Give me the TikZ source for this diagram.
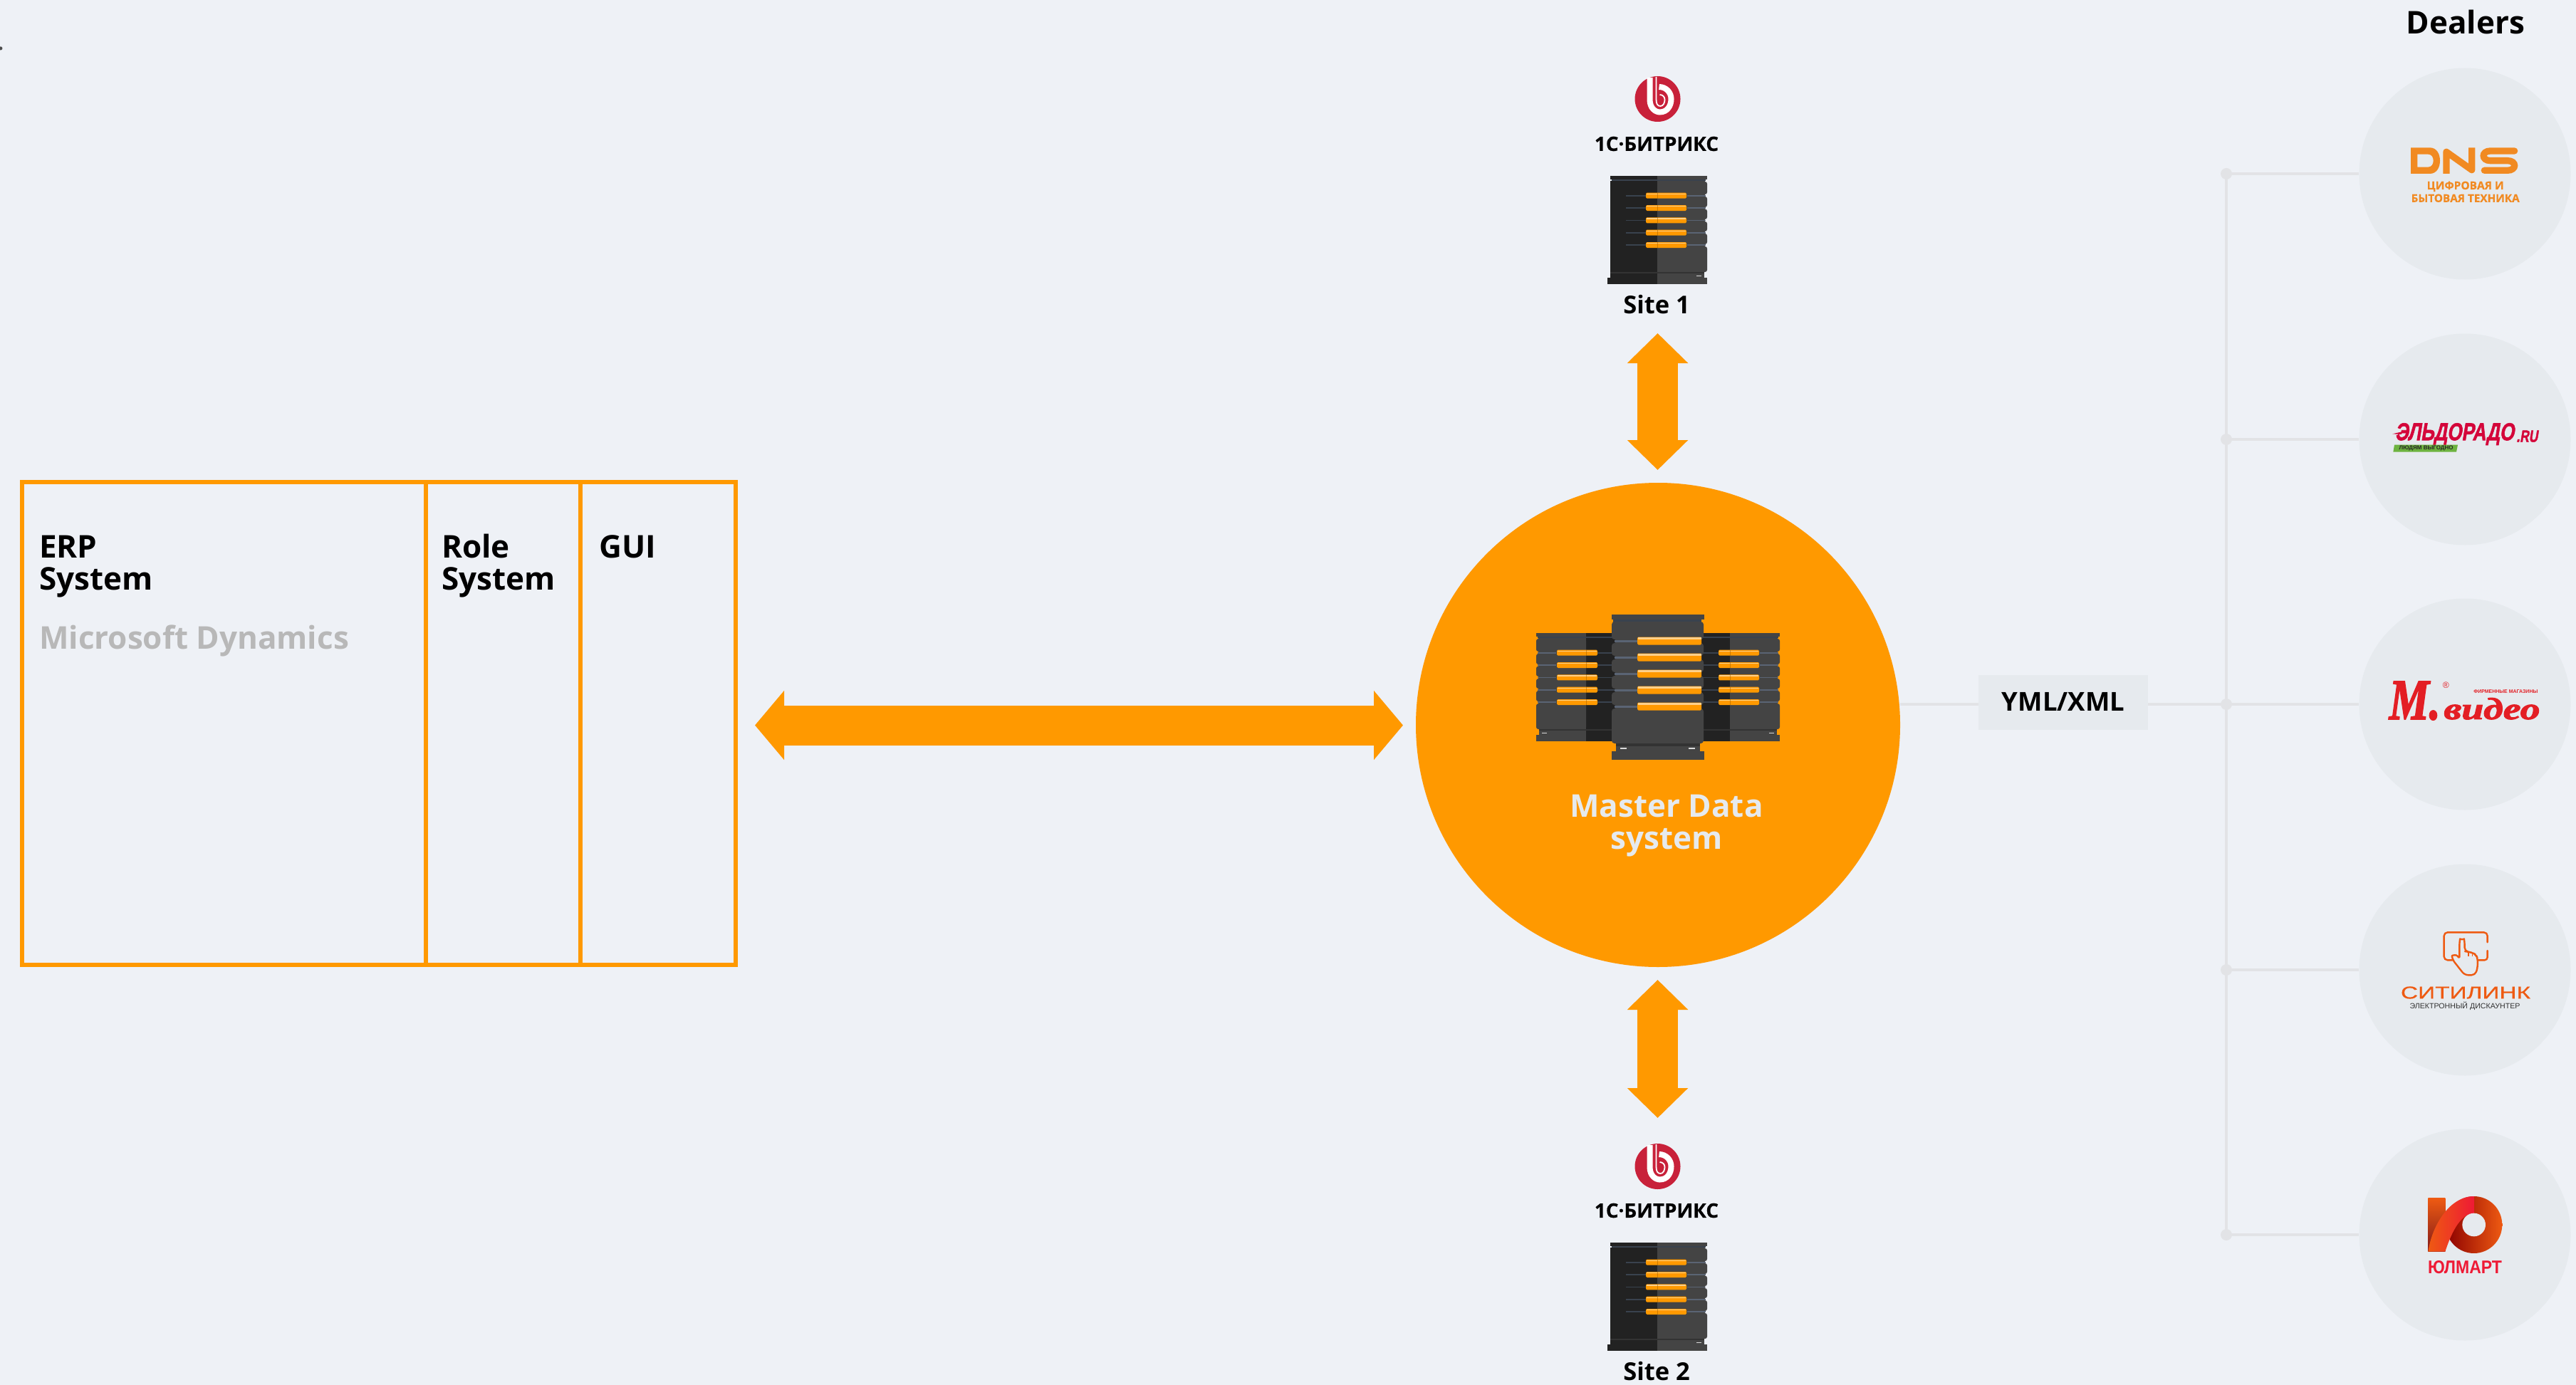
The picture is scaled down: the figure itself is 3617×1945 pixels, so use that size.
\documentclass[tikz,border=0pt]{standalone}
\usepackage{graphicx}
\usepackage{fontspec}
\setmainfont{Open Sans}
\newfontfamily\lsans{Liberation Sans}
\newfontfamily\lserif{Liberation Serif}
\newfontfamily\heavy[BoldFeatures={FakeBold=0.6}]{Open Sans}
\newfontfamily\eldfont[BoldFeatures={FakeBold=2,FakeSlant=0.22}]{Liberation Sans}
\newfontfamily\mvfont[BoldItalicFeatures={FakeBold=2.2}]{Liberation Serif}
\newfontfamily\citfont[UprightFeatures={FakeBold=0.5}]{Liberation Sans}
\usetikzlibrary{arrows.meta}
\definecolor{bg}{HTML}{EEF1F6}
\definecolor{disc}{HTML}{E6EAEE}
\definecolor{wire}{HTML}{E2E3E6}
\definecolor{org}{HTML}{FF9900}
\definecolor{rdark}{HTML}{222222}
\definecolor{rlight}{HTML}{444444}
\definecolor{rbase}{HTML}{333333}
\definecolor{wirel}{HTML}{5A6474}
\definecolor{wired}{HTML}{39424E}
\definecolor{hil}{HTML}{FFD08A}
\definecolor{bxred}{HTML}{C8213A}
\definecolor{dnsc}{HTML}{F18A22}
\definecolor{eldc}{HTML}{D4063A}
\definecolor{mvc}{HTML}{E31E24}
\definecolor{citc}{HTML}{EE5A12}
\definecolor{yuc}{HTML}{EE1A35}
\definecolor{eldg}{HTML}{6DB33F}
\tikzset{
  lbl/.style={inner sep=0pt,anchor=base west,font=\fontsize{44}{46}\selectfont\bfseries},
  ctr/.style={inner sep=0pt,anchor=base,font=\fontsize{34.5}{40}\selectfont\bfseries},
  hubtext/.style={inner sep=0pt,anchor=base,text=disc,font=\fontsize{44}{46}\selectfont\bfseries},
  dealer/.style={circle,fill=disc,minimum size=297pt,inner sep=0pt},
  wireline/.style={wire,line width=4.7pt},
  jdot/.style={circle,fill=wire,minimum size=16pt,inner sep=0pt},
  frameline/.style={org,line width=6pt},
  bigarrow/.style={org,line width=56pt,{Triangle[length=41pt,width=95pt]}-{Triangle[length=41pt,width=95pt]}},
  vertarrow/.style={org,line width=57pt,{Triangle[length=42pt,width=83pt]}-{Triangle[length=42pt,width=83pt]}},
  logotext/.style={inner sep=0pt},
  bar/.style={fill=org,rounded corners=1.5pt},
}
\newcommand\rackrows[1]{\foreach \r in {27.7,45,62.3,79.7,97}{#1}}
\tikzset{rack/.pic={
  \fill[rdark] (-66,7) rectangle (0,135);
  \fill[rlight] (0,7) rectangle (67,135);
  \foreach \a/\b in {8/26,29/44,46.5/61,64/78,81/96,99/135}{
    \fill[rlight,rounded corners=3pt] (0,\a) rectangle (70,\b);}
  \fill[rdark] (-66,0) rectangle (0,5.3);
  \fill[rlight] (0,0) rectangle (70,5.3);
  \fill[wired] (-64,5.3) rectangle (68,7.3);
  \rackrows{
    \fill[wired] (-44,\r-0.8) rectangle (-16,\r+0.8);
    \fill[wirel] (42,\r-0.8) rectangle (68,\r+0.8);
    \fill[bar] (-16,\r-4) rectangle (41,\r+4);
    \fill[hil] (-15,\r-3.2) rectangle (40,\r-1.6);
    \fill[black!40!org,opacity=.5] (-0.3,\r-4) rectangle (0.3,\r+4);
  }
  \fill[rdark] (-66,135) rectangle (0,143);
  \fill[rlight] (0,135) rectangle (66,143);
  \fill[rbase] (-66,135) rectangle (66,137);
  \fill[rdark] (-70,143) rectangle (0,152);
  \fill[rlight] (0,143) rectangle (70,152);
  \fill[white!85!black] (55,140) rectangle (62,141);
}}
\tikzset{bitrix/.pic={
  \fill[bxred] (0,0) circle (32);
  \draw[white,line width=8pt,line cap=butt]
    (-11,-30) -- (-11,1) .. controls (-11,13) and (-3,18.5) .. (3,18.5)
    .. controls (14,18.5) and (19,9) .. (19,0) .. controls (19,-9) and (12,-17) .. (2,-17);
  \draw[bxred,line width=1.6pt]
    (-5,-31) -- (-5,1) .. controls (-5,9) and (-2,13) .. (3,13)
    .. controls (9,13) and (13,7) .. (13,0) .. controls (13,-6) and (8,-10) .. (2,-10);
  \draw[white,line width=1.8pt] (-2,-31) -- (-2,1) .. controls (-2,7) and (0,10) .. (4,10)
    .. controls (8,10) and (10,5) .. (10,1) .. controls (10,-3) and (7,-6) .. (3,-6);
}}
\begin{document}
\begin{tikzpicture}[x=1pt,y=-1pt]
\useasboundingbox (0,0) rectangle (3617,1945);
\fill[bg] (0,0) rectangle (3617,1945);
\node[inner sep=0pt,anchor=base,font=\fontsize{30}{30}\selectfont\bfseries,text=black!70] (stray) at (1,71) {.};

% left block
\draw[frameline] (31,676.5) rectangle (1033,1355);
\draw[frameline] (597.5,676.5) -- (597.5,1355);
\draw[frameline] (815,676.5) -- (815,1355);
\node[lbl] (erp) at (55,783) {ERP};
\node[lbl] (erps) at (55,828) {System};
\node[lbl,text=black!28] (ms) at (55,911) {Microsoft Dynamics};
\node[lbl] (role) at (620,783) {Role};
\node[lbl] (roles) at (620,828) {System};
\node[lbl] (gui) at (841,783) {GUI};

% hub
\node[circle,fill=org,minimum size=680pt,inner sep=0pt] (hub) at (2328,1018) {};
\pic at (2227,889) [xscale=-1] {rack};
\pic at (2429,889) {rack};
% centre rack
\fill[rlight] (2263,863) rectangle (2393,870);
\fill[wired] (2265,870) rectangle (2389,873.5);
\fill[rlight] (2268,873) rectangle (2389,1044);
\foreach \a/\b in {873/898,903/921,926/944,949/967,972/990,995/1044}{
  \fill[rlight,rounded corners=4pt] (2263,\a) rectangle (2392,\b);}
\foreach \r in {900,923,946,969,992}{
  \fill[wirel] (2267,\r-1.5) rectangle (2299,\r+1.5);
  \fill[bar] (2299,\r-5.5) rectangle (2389,\r+5.5);
  \fill[hil] (2300,\r-5) rectangle (2389,\r-2.5);
}
\fill[rbase] (2269,1044) rectangle (2387,1048);
\fill[rlight] (2269,1048) rectangle (2387,1055);
\fill[rlight] (2263,1055) rectangle (2393,1067);
\fill[white!85!black] (2275,1050) rectangle (2284,1052);
\fill[white!85!black] (2371,1050) rectangle (2380,1052);
\node[hubtext] (md1) at (2340,1147) {Master Data};
\node[hubtext] (md2) at (2340,1192) {system};

% horizontal arrow
\coordinate (erpend) at (1060,1018.5);
\coordinate (hubend) at (1970,1018.5);
\draw[bigarrow] (erpend) -- (hubend);
% vertical arrows
\coordinate (a1) at (2327.5,468);
\coordinate (a2) at (2327.5,660);
\coordinate (b1) at (2327.5,1376);
\coordinate (b2) at (2327.5,1570);
\draw[vertarrow] (a1) -- (a2);
\draw[vertarrow] (b1) -- (b2);

% sites
\pic at (2327.5,139) {bitrix};
\node[logotext] (bx1) at (2326,202) {\resizebox{174pt}{!}{\heavy\bfseries 1С·БИТРИКС}};
\pic at (2327,247) {rack};
\node[ctr] (site1) at (2326,440) {Site 1};
\pic at (2327.5,1638) {bitrix};
\node[logotext] (bx2) at (2326,1700) {\resizebox{174pt}{!}{\heavy\bfseries 1С·БИТРИКС}};
\pic at (2327,1745) {rack};
\node[ctr] (site2) at (2326,1938) {Site 2};

% dealers
\node[lbl,anchor=base] (dlr) at (3462,48) {Dealers};
\node[dealer] (d1) at (3461,244) {};
\node[dealer] (d2) at (3461,617) {};
\node[dealer] (d3) at (3461,989) {};
\node[dealer] (d4) at (3461,1362) {};
\node[dealer] (d5) at (3461,1734) {};
\coordinate (t1) at (3126,244);
\coordinate (t2) at (3126,617);
\coordinate (t3) at (3126,989);
\coordinate (t4) at (3126,1362);
\coordinate (t5) at (3126,1734);
\draw[wireline] (t1) -- (t5);
\foreach \i in {1,...,5}{
  \draw[wireline] (t\i) -- (d\i.west);
  \node[jdot] at (t\i) {};
}
\node[fill=disc,minimum width=238pt,minimum height=77pt,inner sep=0pt] (yml) at (2897,986.5) {};
\draw[wireline] (hub.east |- t3) -- (yml.west |- t3);
\draw[wireline] (yml.east |- t3) -- (t3);
\node[inner sep=0pt,anchor=base,font=\fontsize{36.5}{40}\selectfont\bfseries] (ymlt) at (2897,998) {YML/XML};

% DNS
\begin{scope}[shift={(3300,0)},x=.3333pt,y=-.3333pt]
\fill[dnsc,even odd rule] (255,622) -- (335,622) .. controls (365,622) and (378,650) .. (378,677)
  .. controls (378,704) and (365,732) .. (335,732) -- (255,732) -- cycle
  (283,650) -- (328,650) .. controls (342,650) and (350,662) .. (350,677)
  .. controls (350,692) and (342,704) .. (328,704) -- (283,704) -- cycle;
\draw[dnsc,line width=9.3pt,line join=round] (405,732) -- (405,640) -- (512,716) -- (512,622);
\draw[dnsc,line width=9.3pt,line cap=round] (692,636) -- (590,636) .. controls (552,636) and (552,677) .. (590,677)
  -- (662,677) .. controls (702,677) and (702,718) .. (662,718) -- (565,718);
\node[logotext,text=dnsc] (dns1) at (485,786) {\resizebox{108pt}{!}{\heavy\bfseries ЦИФРОВАЯ И}};
\node[logotext,text=dnsc] (dns2) at (485,835) {\resizebox{152pt}{!}{\heavy\bfseries БЫТОВАЯ ТЕХНИКА}};
\end{scope}

% Eldorado
\begin{scope}[shift={(3300,460)},x=.3333pt,y=-.3333pt]
\node[logotext,text=eldc] (eld) at (440,449) {\resizebox{167pt}{24pt}{\eldfont\bfseries ЭЛЬДОРАДО}};
\node[logotext,text=eldc] (eldr) at (745,458) {\resizebox{30pt}{16pt}{\eldfont\bfseries .RU}};
\fill[eldc] (178,448) -- (222,438) -- (215,450) -- cycle;
\fill[eldg] (186,494) -- (453,494) -- (447,524) -- (181,524) -- cycle;
\node[logotext,text=black!85] (eldt) at (320,509) {\resizebox{76pt}{!}{\lsans\bfseries ЛЮДЯМ ВЫГОДНО}};
\end{scope}

% M.video
\begin{scope}[shift={(3300,830)},x=.3333pt,y=-.3333pt]
\node[logotext,anchor=base,text=mvc] (mvm) at (272,540) {\resizebox{72pt}{53pt}{\mvfont\bfseries\itshape М.}};
\node[logotext,anchor=base,text=mvc] (mv) at (597,540) {\resizebox{135pt}{30pt}{\mvfont\bfseries\itshape видео}};
\node[logotext,text=mvc] (mvt) at (655,422) {\resizebox{90pt}{!}{\lsans\bfseries ФИРМЕННЫЕ МАГАЗИНЫ}};
\node[logotext,text=mvc] (mvr) at (403,397) {\resizebox{9pt}{!}{\lsans ®}};
\end{scope}

% Citilink
\begin{scope}[shift={(3300,1210)},x=.3333pt,y=-.3333pt]
\draw[citc,line width=2.4pt,rounded corners=5pt,line cap=round]
  (578,340) -- (578,298) -- (395,298) -- (395,415) -- (430,415);
\draw[citc,line width=2.4pt,rounded corners=4pt,line cap=round]
  (578,375) -- (578,415) -- (540,415);
\draw[citc,line width=2.4pt,fill=disc,rounded corners=5pt,line join=round]
  (460,412) -- (460,340) .. controls (462,328) and (480,328) .. (482,340) -- (482,378)
  -- (498,380) -- (514,384) -- (530,392) -- (537,410) -- (536,450) -- (526,478) -- (482,478)
  -- (430,412) .. controls (428,395) and (448,390) .. cycle;
\draw[citc,line width=1.6pt] (498,380) -- (498,398) (514,384) -- (514,400);
\node[logotext,text=citc] (cit) at (486,552) {\resizebox{182pt}{17pt}{\citfont СИТИЛИНК}};
\node[logotext,text=black!80] (citt) at (483,607) {\resizebox{155pt}{9.5pt}{\lsans ЭЛЕКТРОННЫЙ ДИСКАУНТЕР}};
\end{scope}

% Yulmart
\begin{scope}[shift={(3300,1580)},x=.3333pt,y=-.3333pt]
\shade[top color=citc,middle color=red!85!black,bottom color=red!45!black!90] (328,308) rectangle (400,533);
\shade[left color=red!55!black,middle color=red!85!black,right color=citc]
  (402,420) arc (180:-180:119 and 120) -- cycle;
\shade[left color=citc,right color=yuc]
  (328,533) .. controls (345,420) and (420,300) .. (521,300)
  -- (521,372) .. controls (470,372) and (430,440) .. (400,533) -- cycle;
\fill[disc] (521,420) circle (49);
\node[logotext,text=yuc] (yu) at (483,598) {\resizebox{104pt}{18pt}{\lsans\bfseries ЮЛМАРТ}};
\end{scope}
\end{tikzpicture}
\end{document}
